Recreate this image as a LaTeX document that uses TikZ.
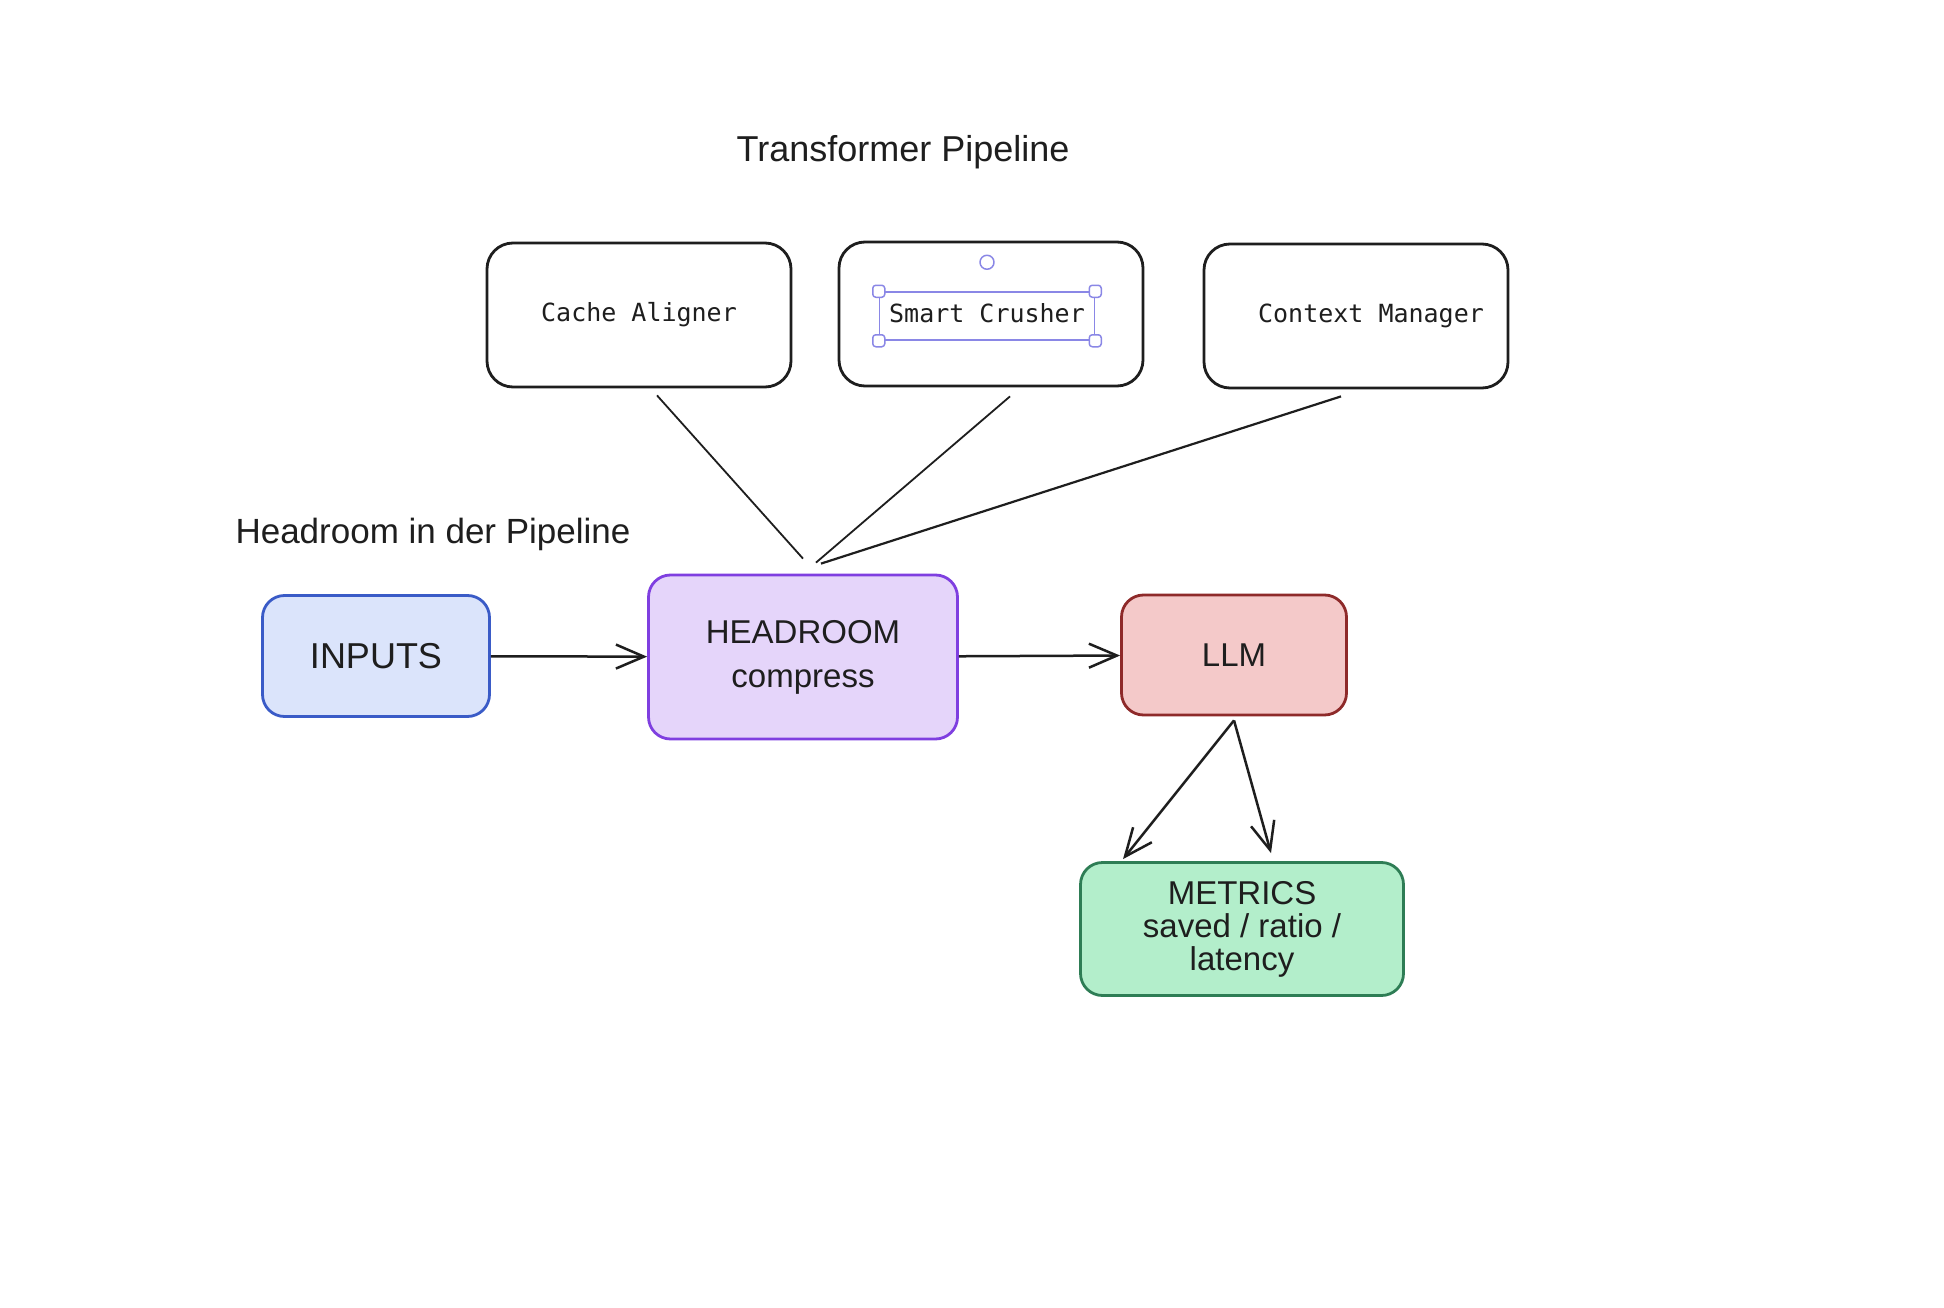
\documentclass[tikz,border=0pt]{standalone}
\usepackage{fontspec}
\setmainfont{Liberation Sans}
\newfontfamily\codefont{DejaVu Sans Mono}
\usetikzlibrary{arrows.meta}

\definecolor{ink}{HTML}{1E1E1E}
\definecolor{inputsfill}{HTML}{DBE4FB}
\definecolor{inputsline}{HTML}{3A5BC7}
\definecolor{headfill}{HTML}{E5D5FA}
\definecolor{headline}{HTML}{7F3FE0}
\definecolor{llmfill}{HTML}{F4C9C9}
\definecolor{llmline}{HTML}{8E2A2A}
\definecolor{metfill}{HTML}{B3EECB}
\definecolor{metline}{HTML}{2E7D55}
\definecolor{selcol}{HTML}{8A87E6}

\begin{document}
\begin{tikzpicture}[x=1pt, y=-1pt, line join=round,
  stage/.style={draw=ink, line width=2.8pt, rounded corners=26pt, minimum width=304pt, minimum height=144pt, font=\codefont\fontsize{25}{30}\selectfont, text=ink},
  block/.style={line width=2.8pt, rounded corners=22pt, font=\fontsize{33}{40}\selectfont, align=center, text=ink},
  flow/.style={-{Straight Barb[length=28pt,width=24pt]}, line width=2.5pt, draw=ink},
  feed/.style={line width=1.8pt, draw=ink},
  heading/.style={font=\fontsize{36}{40}\selectfont, text=ink},
  selframe/.style={draw=selcol, line width=1.5pt, minimum width=215pt, minimum height=48pt},
  grip/.style={draw=selcol, fill=white, line width=1.5pt, rounded corners=3pt, minimum size=12pt, inner sep=0pt}]
  \fill[white] (0,0) rectangle (1944,1308);
  \useasboundingbox (0,0) rectangle (1944,1308);

  % transformer stages
  \node[heading] (title) at (903,152) {Transformer Pipeline};
  \node[stage] (cache) at (639,315) {Cache Aligner};
  \node[stage] (smart) at (991,314) {};
  \node[font=\codefont\fontsize{25}{30}\selectfont, text=ink] (smartlbl) at (987,313) {Smart Crusher};
  \node[stage] (ctx) at (1356,316) {\hspace*{30pt}Context Manager};

  % selection handles
  \node[selframe] (sel) at (987,316) {};
  \foreach \c in {north west, north east, south west, south east}
    \node[grip] at (sel.\c) {};
  \node[draw=selcol, line width=1.5pt, circle, minimum size=14pt, inner sep=0pt] (rot) at ([shift={(0,-29)}]sel.north) {};

  % main flow
  \node[heading, font=\fontsize{35}{40}\selectfont] (hint) at (433,534) {Headroom in der Pipeline};
  \node[block, fill=inputsfill, draw=inputsline, minimum width=227pt, minimum height=121pt, font=\fontsize{36}{40}\selectfont] (inputs) at (376,656) {INPUTS};
  \node[block, fill=headfill, draw=headline, minimum width=309pt, minimum height=164pt] (head) at (803,657) {HEADROOM\\[4pt]compress};
  \node[block, fill=llmfill, draw=llmline, minimum width=225pt, minimum height=120pt] (llm) at (1234,655) {LLM};
  \node[block, fill=metfill, draw=metline, minimum width=323pt, minimum height=133pt, font=\fontsize{33}{33}\selectfont] (metrics) at (1242,929) {METRICS\\saved / ratio /\\latency};

  \draw[flow] (inputs) -- (head);
  \draw[flow] (head) -- (llm);
  \draw[flow] ([shift={(0,4)}]llm.south) -- ([shift={(-119,-2)}]metrics.north);
  \draw[flow] ([shift={(0,4)}]llm.south) -- ([shift={(29,-8)}]metrics.north);

  % stages feed into headroom
  \draw[feed] ([shift={(18,7)}]cache.south) -- ([shift={(0,-15)}]head.north);
  \draw[feed] ([shift={(19,9)}]smart.south) -- ([shift={(13,-11)}]head.north);
  \draw[feed, line width=2.2pt] ([shift={(-15,7)}]ctx.south) -- ([shift={(18,-10)}]head.north);
\end{tikzpicture}
\end{document}
